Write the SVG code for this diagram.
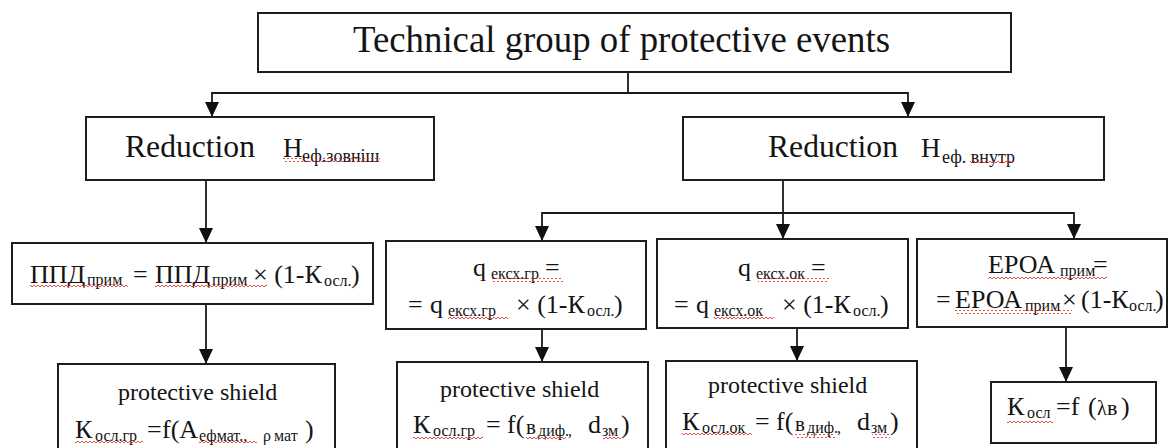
<svg xmlns="http://www.w3.org/2000/svg" width="1170" height="448" viewBox="0 0 1170 448">
<style>
.b{fill:#fff;stroke:#1e1e1e;stroke-width:2}
.t{font-family:"Liberation Serif","Times New Roman",serif;fill:#141414}
.m{font-size:26px}
.s{font-size:16px}
.c{fill:none;stroke:#1a1a1a;stroke-width:1.8}
.w{fill:url(#wavy)}
</style>
<defs>
<marker id="ah" markerUnits="userSpaceOnUse" markerWidth="15" markerHeight="14" refX="15" refY="7" orient="auto">
<path d="M0,0 L15,7 L0,14 z" fill="#111"/>
</marker>
<pattern id="wavy" patternUnits="userSpaceOnUse" width="4" height="4">
<path d="M0,3 L2,1 L4,3" fill="none" stroke="#e02020" stroke-width="0.8"/>
</pattern>
</defs>
<rect width="1170" height="448" fill="#fff"/>

<g id="connectors">
<path class="c" d="M628,72 V93 H212 V117" marker-end="url(#ah)"/>
<path class="c" d="M628,93 H908 V117" marker-end="url(#ah)"/>
<path class="c" d="M206,180 V243" marker-end="url(#ah)"/>
<path class="c" d="M206,304 V364" marker-end="url(#ah)"/>
<path class="c" d="M783,180 V239" marker-end="url(#ah)"/>
<path class="c" d="M783,213 H542 V241" marker-end="url(#ah)"/>
<path class="c" d="M783,213 H1074 V239" marker-end="url(#ah)"/>
<path class="c" d="M542,329 V362" marker-end="url(#ah)"/>
<path class="c" d="M797,328 V361" marker-end="url(#ah)"/>
<path class="c" d="M1066,327 V382" marker-end="url(#ah)"/>
</g>

<g id="title">
<rect class="b" x="258" y="13" width="753" height="59"/>
<text class="t" x="353" y="52" font-size="38" textLength="537" lengthAdjust="spacingAndGlyphs">Technical group of protective events</text>
</g>

<g id="reduction-outer">
<rect class="b" x="86" y="117" width="348" height="63"/>
<text class="t" x="125" y="157" font-size="32" textLength="130" lengthAdjust="spacingAndGlyphs">Reduction</text>
<text class="t" y="157"><tspan x="283" font-size="27">Н</tspan><tspan x="302" dy="5" font-size="18">еф.зовніш</tspan></text>
<rect class="w" x="283" y="158" width="97" height="4"/>
</g>

<g id="reduction-inner">
<rect class="b" x="683" y="117" width="421" height="63"/>
<text class="t" x="768" y="157" font-size="32" textLength="130" lengthAdjust="spacingAndGlyphs">Reduction</text>
<text class="t" y="157"><tspan x="921" font-size="27">Н</tspan><tspan x="942" dy="6" font-size="18">еф. внутр</tspan></text>
<rect class="w" x="970" y="161" width="44" height="4"/>
</g>

<g id="ppd">
<rect class="b" x="12" y="243" width="361" height="61"/>
<text class="t m" y="283"><tspan x="30">ППД</tspan><tspan class="s" x="87" dy="2">прим</tspan><tspan x="133" dy="-2">=</tspan><tspan x="155">ППД</tspan><tspan class="s" x="212" dy="2">прим</tspan><tspan x="253" dy="-2">× (1-К</tspan><tspan class="s" x="324" dy="3">осл.</tspan><tspan x="351" dy="-3">)</tspan></text>
<rect class="w" x="30" y="283" width="98" height="4"/>
<rect class="w" x="155" y="283" width="112" height="4"/>
</g>

<g id="q-gr">
<rect class="b" x="386" y="241" width="260" height="88"/>
<text class="t m" y="276"><tspan x="473">q</tspan><tspan class="s" x="491" dy="3" font-size="17">ексх.гр</tspan><tspan x="545" dy="-3">=</tspan></text>
<text class="t m" y="313"><tspan x="408">=</tspan><tspan x="430">q</tspan><tspan class="s" x="448" dy="3" font-size="17">ексх.гр</tspan><tspan x="516" dy="-3">× (1-К</tspan><tspan class="s" x="587" dy="3">осл.</tspan><tspan x="614" dy="-3">)</tspan></text>
<rect class="w" x="492" y="278" width="71" height="4"/>
<rect class="w" x="448" y="315" width="60" height="4"/>
</g>

<g id="q-ok">
<rect class="b" x="657" y="239" width="251" height="89"/>
<text class="t m" y="276"><tspan x="738">q</tspan><tspan class="s" x="756" dy="3" font-size="17">ексх.ок</tspan><tspan x="811" dy="-3">=</tspan></text>
<text class="t m" y="313"><tspan x="674">=</tspan><tspan x="696">q</tspan><tspan class="s" x="714" dy="3" font-size="17">ексх.ок</tspan><tspan x="782" dy="-3">× (1-К</tspan><tspan class="s" x="853" dy="3">осл.</tspan><tspan x="880" dy="-3">)</tspan></text>
<rect class="w" x="758" y="278" width="71" height="4"/>
<rect class="w" x="714" y="315" width="60" height="4"/>
</g>

<g id="epoa">
<rect class="b" x="917" y="239" width="250" height="88"/>
<text class="t m" y="273"><tspan x="988">ЕРОА</tspan><tspan class="s" x="1060" dy="3">прим</tspan><tspan x="1093" dy="-3">=</tspan></text>
<text class="t m" y="308"><tspan x="936">=</tspan><tspan x="955">ЕРОА</tspan><tspan class="s" x="1025" dy="3">прим</tspan><tspan x="1062" dy="-3">×</tspan><tspan x="1081">(1-К</tspan><tspan class="s" x="1129" dy="3">осл.</tspan><tspan x="1155" dy="-3">)</tspan></text>
<rect class="w" x="988" y="276" width="119" height="4"/>
<rect class="w" x="955" y="310" width="117" height="4"/>
</g>

<g id="shield-gr-a">
<rect class="b" x="58" y="364" width="277" height="100"/>
<text class="t" x="118" y="400" font-size="24">protective shield</text>
<text class="t m" y="438"><tspan x="75">К</tspan><tspan class="s" x="95" dy="3">осл.гр</tspan><tspan x="147" dy="-3">=</tspan><tspan x="162">f(А</tspan><tspan class="s" x="199" dy="3">ефмат.,</tspan><tspan class="s" x="263" font-size="19">ρ</tspan><tspan class="s" x="274">мат</tspan><tspan x="305" dy="-3">)</tspan></text>
<rect class="w" x="75" y="440" width="68" height="4"/>
<rect class="w" x="199" y="440" width="58" height="4"/>
</g>

<g id="shield-gr-b">
<rect class="b" x="397" y="362" width="251" height="100"/>
<text class="t" x="440" y="397" font-size="24">protective shield</text>
<text class="t m" y="433"><tspan x="413">К</tspan><tspan class="s" x="433" dy="3">осл.гр</tspan><tspan x="486" dy="-3">=</tspan><tspan x="507">f(</tspan><tspan x="526" font-size="21" dy="1">в</tspan><tspan class="s" x="538" dy="2">диф.</tspan><tspan class="s" x="568">,</tspan><tspan x="588" dy="-3">d</tspan><tspan class="s" x="602" dy="3">зм</tspan><tspan x="621" dy="-3">)</tspan></text>
<rect class="w" x="413" y="436" width="70" height="4"/>
<rect class="w" x="526" y="437" width="40" height="4"/>
<rect class="w" x="603" y="437" width="18" height="4"/>
</g>

<g id="shield-ok">
<rect class="b" x="666" y="361" width="251" height="100"/>
<text class="t" x="708" y="393" font-size="24">protective shield</text>
<text class="t m" y="430"><tspan x="682">К</tspan><tspan class="s" x="702" dy="3">осл.ок</tspan><tspan x="755" dy="-3">=</tspan><tspan x="776">f(</tspan><tspan x="795" font-size="21" dy="1">в</tspan><tspan class="s" x="807" dy="2">диф.</tspan><tspan class="s" x="837">,</tspan><tspan x="857" dy="-3">d</tspan><tspan class="s" x="871" dy="3">зм</tspan><tspan x="890" dy="-3">)</tspan></text>
<rect class="w" x="682" y="433" width="70" height="4"/>
<rect class="w" x="795" y="434" width="40" height="4"/>
<rect class="w" x="872" y="434" width="18" height="4"/>
</g>

<g id="k-osl">
<rect class="b" x="991" y="382" width="165" height="61"/>
<text class="t m" y="415"><tspan x="1007">К</tspan><tspan class="s" x="1027" dy="3">осл</tspan><tspan x="1056" dy="-3">=f</tspan><tspan x="1088">(</tspan><tspan x="1097" font-size="20">λ</tspan><tspan x="1107" font-size="22">в</tspan><tspan x="1121">)</tspan></text>
<rect class="w" x="1007" y="419" width="46" height="4"/>
</g>
</svg>
